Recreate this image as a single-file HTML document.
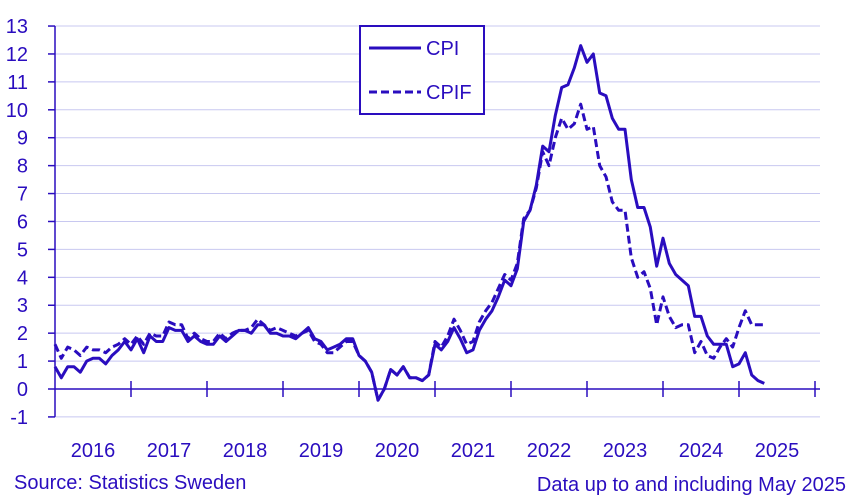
<!DOCTYPE html>
<html><head><meta charset="utf-8"><style>
body{margin:0;background:#fff}
svg{display:block;font-family:"Liberation Sans",sans-serif}
</style></head><body>
<svg id="chart" width="851" height="501" xmlns="http://www.w3.org/2000/svg">
<g id="grid"></g>
<g id="axes"></g>
<g id="series"></g>
<g>
<rect x="360" y="26" width="124" height="88" fill="#fff" stroke="#2a0dbf" stroke-width="2"/>
<line x1="369" y1="48" x2="421" y2="48" stroke="#2a0dbf" stroke-width="3"/>
<text x="426" y="55" font-size="20" fill="#2a0dbf">CPI</text>
<line x1="369" y1="92" x2="421" y2="92" stroke="#2a0dbf" stroke-width="3" stroke-dasharray="8,4"/>
<text x="426" y="99" font-size="20" fill="#2a0dbf">CPIF</text>
</g>
<text x="14" y="489" font-size="20" fill="#2a0dbf">Source: Statistics Sweden</text>
<text x="846" y="491" font-size="20" fill="#2a0dbf" text-anchor="end">Data up to and including May 2025</text>
</svg>
<script>
const years = ["2016","2017","2018","2019","2020","2021","2022","2023","2024","2025"];
const yTicks = [-1,0,1,2,3,4,5,6,7,8,9,10,11,12,13];
const cpi = [0.8,0.4,0.8,0.8,0.6,1.0,1.1,1.1,0.9,1.2,1.4,1.7,
1.4,1.8,1.3,1.9,1.7,1.7,2.2,2.1,2.1,1.7,1.9,1.7,
1.6,1.6,1.9,1.7,1.9,2.1,2.1,2.0,2.3,2.3,2.0,2.0,
1.9,1.9,1.8,2.0,2.2,1.8,1.7,1.4,1.5,1.6,1.8,1.8,
1.2,1.0,0.6,-0.4,0.0,0.7,0.5,0.8,0.4,0.4,0.3,0.5,
1.6,1.4,1.7,2.2,1.8,1.3,1.4,2.1,2.5,2.8,3.3,3.9,
3.7,4.3,6.0,6.4,7.3,8.7,8.5,9.8,10.8,10.9,11.5,12.3,
11.7,12.0,10.6,10.5,9.7,9.3,9.3,7.5,6.5,6.5,5.8,4.4,
5.4,4.5,4.1,3.9,3.7,2.6,2.6,1.9,1.6,1.6,1.6,0.8,
0.9,1.3,0.5,0.3,0.2];
const cpif = [1.6,1.1,1.5,1.4,1.2,1.5,1.4,1.4,1.3,1.5,1.6,1.8,
1.6,1.9,1.6,2.0,1.9,1.9,2.4,2.3,2.3,1.8,2.0,1.8,
1.7,1.7,2.0,1.8,2.0,2.1,2.1,2.2,2.5,2.3,2.1,2.2,
2.1,2.0,1.9,2.0,2.1,1.7,1.6,1.3,1.3,1.5,1.7,1.7,
1.2,1.0,0.6,-0.4,0.0,0.7,0.5,0.8,0.4,0.4,0.3,0.5,
1.7,1.5,1.9,2.5,2.1,1.6,1.7,2.4,2.8,3.1,3.6,4.1,
3.9,4.5,6.1,6.4,7.2,8.5,8.0,9.0,9.7,9.3,9.5,10.2,
9.3,9.4,8.0,7.6,6.7,6.4,6.4,4.7,4.0,4.2,3.6,2.3,
3.3,2.6,2.2,2.3,2.3,1.3,1.7,1.2,1.1,1.5,1.8,1.5,
2.2,2.8,2.3,2.3,2.3];
const NS="http://www.w3.org/2000/svg", C="#2a0dbf";
const x0=55, yearW=76, x=i=>x0+i*yearW/12, y=v=>389-v*27.92;
function mk(tag,parent,attrs){const e=document.createElementNS(NS,tag);for(const k in attrs)e.setAttribute(k,attrs[k]);document.getElementById(parent).appendChild(e);return e;}
yTicks.forEach(v=>{
  if(v!==0){const g=mk('line','grid',{x1:x0,x2:820,y1:y(v),y2:y(v),stroke:'#c8c8f0','stroke-width':1});
  
  }
  const t=mk('line','axes',{x1:48,x2:x0,y1:y(v),y2:y(v),stroke:C,'stroke-width':1.5});
  
  
  const l=mk('text','axes',{x:28,y:y(v)+7,'font-size':20,fill:C,'text-anchor':'end'});
  l.textContent=v;
  
  
});
const ya=mk('line','axes',{x1:x0,x2:x0,y1:y(13),y2:y(-1),stroke:C,'stroke-width':1.5});


const xa=mk('line','axes',{x1:x0,x2:820,y1:y(0),y2:y(0),stroke:C,'stroke-width':1.5});


for(let k=1;k<=years.length;k++){
  const t=mk('line','axes',{x1:x0+k*yearW,x2:x0+k*yearW,y1:y(0)-8,y2:y(0)+8,stroke:C,'stroke-width':1.5});
  
  
}
years.forEach((yr,k)=>{
  const l=mk('text','axes',{x:x0+k*yearW+yearW/2,y:457,'font-size':20,fill:C,'text-anchor':'middle'});
  l.textContent=yr;
  
  
});
function line(data,dash,name){
  const p=mk('polyline','series',{points:data.map((v,i)=>x(i).toFixed(1)+','+y(v).toFixed(1)).join(' '),fill:'none',stroke:C,'stroke-width':3,'stroke-linejoin':'round'});
  if(dash)p.setAttribute('stroke-dasharray','8,4');
  
  
}
line(cpif,true,'cpif-line');
line(cpi,false,'cpi-line');
</script>
</body></html>
